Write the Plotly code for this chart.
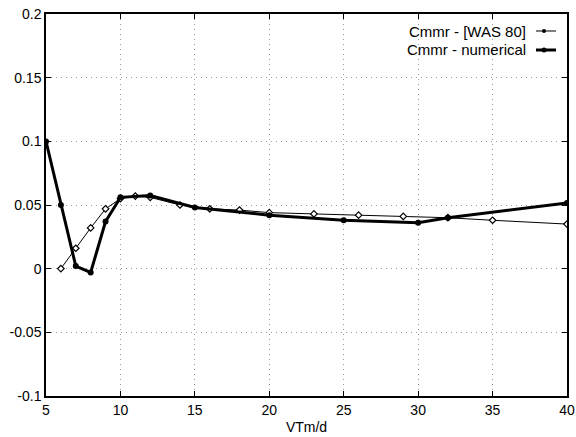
import plotly.graph_objects as go

# Data
was_x = [6, 7, 8, 9, 10, 11, 12, 14, 16, 18, 20, 23, 26, 29, 32, 35, 40]
was_y = [0.0, 0.016, 0.032, 0.047, 0.055, 0.057, 0.056, 0.050, 0.047, 0.046, 0.044,
         0.043, 0.042, 0.041, 0.040, 0.038, 0.035]

num_x = [5, 6, 7, 8, 9, 10, 12, 15, 20, 25, 30, 32, 40]
num_y = [0.100, 0.050, 0.002, -0.003, 0.037, 0.056, 0.0575, 0.048, 0.042, 0.038,
         0.036, 0.040, 0.0515]

x_ticks = [5, 10, 15, 20, 25, 30, 35, 40]
y_ticks = [-0.1, -0.05, 0, 0.05, 0.1, 0.15, 0.2]
y_tick_text = ["-0.1", "-0.05", "0", "0.05", "0.1", "0.15", "0.2"]

legend_names = ["Cmmr - [WAS 80]", "Cmmr - numerical"]
x_title = "VTm/d"

FONT = "Liberation Sans, Arial, Helvetica, sans-serif"

fig = go.Figure()
fig.add_trace(go.Scatter(
    x=was_x, y=was_y, mode="lines+markers", name=legend_names[0],
    line=dict(color="black", width=1),
    marker=dict(symbol="diamond", size=5, color="white", line=dict(color="black", width=1.2)),
))
fig.add_trace(go.Scatter(
    x=num_x, y=num_y, mode="lines+markers", name=legend_names[1],
    line=dict(color="black", width=3),
    marker=dict(symbol="circle", size=6, color="black"),
))

axis_common = dict(
    showline=True, linecolor="black", linewidth=1.5, mirror="ticks",
    ticks="inside", ticklen=5, tickcolor="black", tickwidth=1,
    showgrid=True, gridcolor="#9a9a9a", griddash="1px,4px", gridwidth=1,
    zeroline=False, tickfont=dict(family=FONT, size=14, color="black"),
    ticklabeloverflow="allow",
)

fig.update_xaxes(range=[5, 40], tickvals=x_ticks, ticktext=[str(v) for v in x_ticks],
                 title=dict(text=x_title, standoff=6, font=dict(family=FONT, size=14, color="black")),
                 automargin=False, **axis_common)
fig.update_yaxes(range=[-0.1001, 0.2001], tickvals=y_ticks, ticktext=y_tick_text,
                 automargin=False, **axis_common)

# Custom legend (text on the left, line sample on the right)
L, R, T, B = 46, 9, 14, 41
PW, PH = 576 - L - R, 437 - T - B
def px2paper(px, py):
    return (px - L) / PW, (437 - B - py) / PH

legend_rows = [(31, 1, 5), (50, 3, 6)]
for (py, lw, ms), name in zip(legend_rows, legend_names):
    xa, ya = px2paper(528, py)
    fig.add_annotation(x=xa, y=ya, xref="paper", yref="paper", text=name,
                       showarrow=False, xanchor="right", yanchor="middle",
                       font=dict(family=FONT, size=15, color="black"))
    x0, _ = px2paper(536, py)
    x1, _ = px2paper(556, py)
    fig.add_shape(type="line", xref="paper", yref="paper", x0=x0, x1=x1, y0=ya, y1=ya,
                  line=dict(color="black", width=lw))
    cx, _ = px2paper(544, py)
    fig.add_trace(go.Scatter(x=[cx], y=[ya], xaxis="x2", yaxis="y2", mode="markers",
                             marker=dict(symbol="circle", size=ms - 1, color="black"),
                             showlegend=False, hoverinfo="skip"))

fig.update_layout(
    xaxis2=dict(range=[0, 1], overlaying="x", visible=False, domain=[0, 1]),
    yaxis2=dict(range=[0, 1], overlaying="y", visible=False, domain=[0, 1]),
    width=576, height=437, showlegend=False,
    margin=dict(l=L, r=R, t=T, b=B, autoexpand=False),
    paper_bgcolor="white", plot_bgcolor="white",
    font=dict(family=FONT, size=14, color="black"),
)

fig.write_html("out.html")
